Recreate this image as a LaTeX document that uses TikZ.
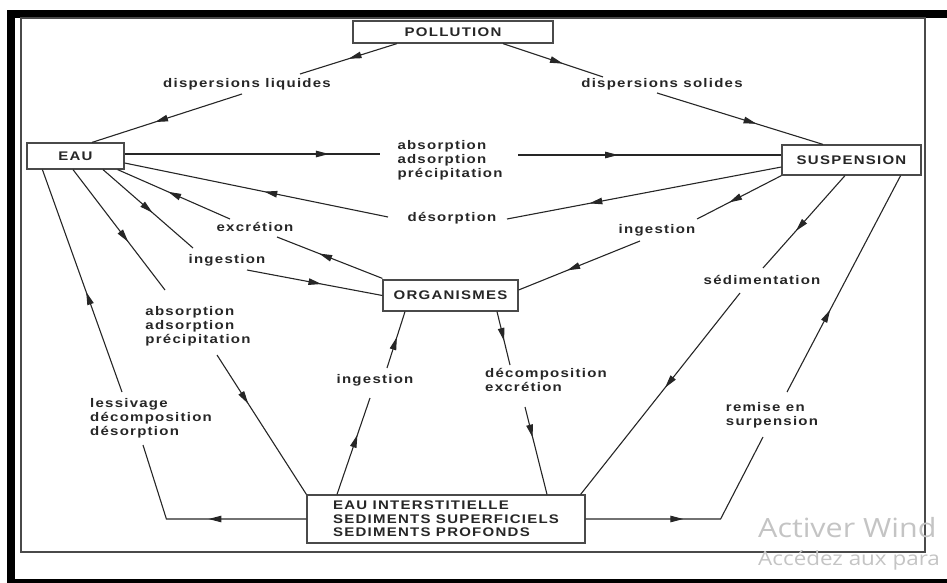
\documentclass[tikz,border=0pt]{standalone}
\usepackage{fontspec}
\usetikzlibrary{arrows.meta,decorations.markings}
\newfontfamily\diagfont[FakeStretch=1.2,LetterSpace=10]{Liberation Sans}
\newfontfamily\winfont[FakeStretch=1.15]{Open Sans}
\definecolor{InkGray}{HTML}{262626}
\definecolor{EdgeGray}{HTML}{4A4A4A}
\definecolor{WaterMark}{HTML}{C4C4C4}

\begin{document}
\begin{tikzpicture}[
        x=1pt, y=-1pt,
        box/.style={
            draw=EdgeGray,
            line width=1.2pt,
            fill=white,
            text=InkGray,
            font=\diagfont\bfseries\fontsize{12.5}{13.5}\selectfont,
            align=left,
            inner sep=0pt
        },
        lbl/.style={
            text=InkGray,
            font=\diagfont\bfseries\fontsize{12.5}{14}\selectfont,
            align=left,
            inner sep=1pt
        },
        conn/.style={color=InkGray, line width=1.1pt},
        arr/.style={
            postaction={decorate},
            decoration={markings,
                mark=at position #1 with {\arrow{Triangle[length=13pt,width=6.5pt]}}}
        },
        arr/.default=0.55
    ]
        \useasboundingbox (0,0) rectangle (947,583);
        \fill[black] (7,10) rectangle (947,18);
        \fill[black] (7,10) rectangle (15,583);
        \fill[black] (7,579) rectangle (947,583);
        \draw[EdgeGray, line width=1.3pt] (21,18) rectangle (925,552);

        \node[box, minimum width=200pt, minimum height=22pt] (poll) at (453,32) {POLLUTION};
        \node[box, minimum width=97pt, minimum height=26pt] (eau) at (75.5,156) {EAU};
        \node[box, minimum width=139pt, minimum height=30pt] (susp) at (851.5,160) {SUSPENSION};
        \node[box, minimum width=135pt, minimum height=31pt] (org) at (450.5,295.5) {ORGANISMES};
        \node[box, minimum width=278pt, minimum height=48pt] (sed) at (446,519)
            {EAU INTERSTITIELLE\\SEDIMENTS SUPERFICIELS\\SEDIMENTS PROFONDS};

        \node[lbl] (dl) at (247,84) {dispersions liquides};
        \node[lbl] (ds) at (662,84) {dispersions solides};
        \node[lbl] (aap) at (450,160) {absorption\\adsorption\\précipitation};
        \node[lbl] (des) at (452,218) {désorption};
        \node[lbl] (exc) at (255,227) {excrétion};
        \node[lbl] (ing1) at (227,260) {ingestion};
        \node[lbl] (aap2) at (198,326) {absorption\\adsorption\\précipitation};
        \node[lbl] (ing2) at (375,380) {ingestion};
        \node[lbl] (lds) at (151,418) {lessivage\\décomposition\\désorption};
        \node[lbl] (dex) at (546,380) {décomposition\\excrétion};
        \node[lbl] (ing3) at (657,230) {ingestion};
        \node[lbl] (sedim) at (762,280) {sédimentation};
        \node[lbl] (rms) at (772,415) {remise en\\surpension};

        \draw[conn, arr=0.5] ([xshift=-56pt]poll.south) -- ([shift={(53,-10)}]dl.center);
        \draw[conn, arr=0.58] ([shift={(-5,10)}]dl.center) -- ([xshift=16.5pt]eau.north);
        \draw[conn, arr=0.6] ([xshift=50pt]poll.south) -- ([shift={(-59,-7)}]ds.center);
        \draw[conn, arr=0.6] ([shift={(-5,9)}]ds.center) -- ([xshift=-28.5pt]susp.north);

        \draw[conn, arr=0.8] ([yshift=2pt]eau.east) -- ([shift={(-70,-6)}]aap.center);
        \draw[conn, arr=0.38] ([shift={(68,-5)}]aap.center) -- ([yshift=5pt]susp.west);
        \draw[conn, arr=0.7] ([yshift=-7pt]susp.west) -- ([shift={(55,1)}]des.center);
        \draw[conn, arr=0.47] ([shift={(-64,-1)}]des.center) -- ([yshift=-7pt]eau.east);

        \draw[conn, arr] ([xshift=27.5pt]eau.south) -- ([shift={(-34,-12)}]ing1.center);
        \draw[conn, arr] ([shift={(20,10)}]ing1.center) -- (org.west);
        \draw[conn, arr=0.6] ([yshift=1pt]org.north west) -- ([shift={(22,10)}]exc.center);
        \draw[conn, arr] ([shift={(-25,-8)}]exc.center) -- ([xshift=-7pt]eau.south east);

        \draw[conn, arr=0.6] ([xshift=-2.5pt]eau.south) -- ([shift={(-33,-36)}]aap2.center);
        \draw[conn, arr=0.35] ([shift={(19,29)}]aap2.center) -- (sed.north west);
        \draw[conn, arr=0.45] (sed.west) -- ([xshift=-140pt]sed.west) -- ([shift={(-8,27)}]lds.center);
        \draw[conn, arr=0.45] ([shift={(-29,-26)}]lds.center) -- ([xshift=16pt]eau.south west);

        \draw[conn, arr=0.62] ([xshift=-109pt]sed.north) -- ([shift={(-5,18)}]ing2.center);
        \draw[conn, arr] ([shift={(12,-12)}]ing2.center) -- ([xshift=-45.5pt]org.south);
        \draw[conn, arr] ([xshift=46.5pt]org.south) -- ([shift={(-36,-15)}]dex.center);
        \draw[conn, arr=0.35] ([shift={(-21,27)}]dex.center) -- ([xshift=101pt]sed.north);

        \draw[conn, arr=0.62] (susp.south west) -- ([shift={(40,-11)}]ing3.center);
        \draw[conn, arr=0.6] ([shift={(-17,11)}]ing3.center) -- ([yshift=5.5pt]org.east);
        \draw[conn, arr=0.6] ([xshift=-6.5pt]susp.south) -- ([shift={(1,-12)}]sedim.center);
        \draw[conn, arr=0.47] ([shift={(-22,13)}]sedim.center) -- ([xshift=-5pt]sed.north east);
        \draw[conn, arr=0.43] (sed.east) -- ([xshift=135pt]sed.east) -- ([shift={(-9,22)}]rms.center);
        \draw[conn, arr=0.38] ([shift={(15,-23)}]rms.center) -- ([xshift=-21pt]susp.south east);

        \node[anchor=base west, inner sep=0pt, text=WaterMark,
            font=\winfont\fontsize{26.5}{26.5}\selectfont] (wm1) at (758,537) {Activer Wind};
        \node[anchor=base west, inner sep=0pt, text=WaterMark,
            font=\winfont\fontsize{19.5}{19.5}\selectfont] (wm2) at (758,565) {Accédez aux para};
    \end{tikzpicture}
\end{document}
